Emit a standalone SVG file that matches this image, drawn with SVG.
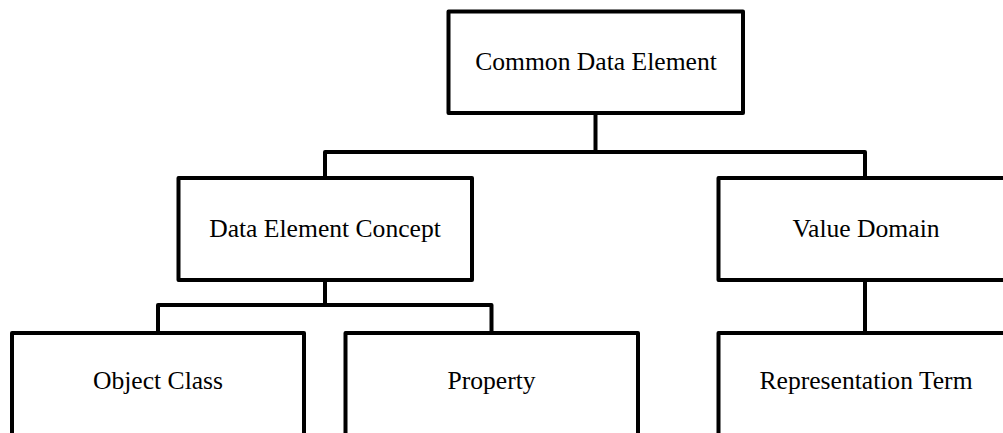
<svg xmlns="http://www.w3.org/2000/svg" width="1003" height="433" viewBox="0 0 1003 433">
<style>
.box{fill:#fff;stroke:#000;stroke-width:4;stroke-linejoin:round}
.lbl{font-family:"Liberation Serif","Times New Roman",serif;font-size:25.6px;fill:#000;text-anchor:middle}
.con{fill:none;stroke:#000;stroke-width:4;stroke-linejoin:round}
</style>
<rect width="1003" height="433" fill="#fff"/>
<g id="connectors">
<path class="con" d="M595.5 113 V152 M325 178 V152 H865 V178"/>
<path class="con" d="M325 280 V305 M158 333 V305 H491.5 V333"/>
<path class="con" d="M865 280 V333"/>
</g>
<g id="cde"><rect class="box" x="448.5" y="11.5" width="294.5" height="101.5"/><text class="lbl" x="596" y="70">Common Data Element</text></g>
<g id="dec"><rect class="box" x="178.5" y="178" width="293.5" height="102"/><text class="lbl" x="325" y="237">Data Element Concept</text></g>
<g id="vd"><rect class="box" x="718.5" y="178" width="294" height="102"/><text class="lbl" x="866" y="237">Value Domain</text></g>
<g id="oc"><rect class="box" x="12" y="333" width="292" height="102"/><text class="lbl" x="158" y="389">Object Class</text></g>
<g id="prop"><rect class="box" x="345.5" y="333" width="292.5" height="102"/><text class="lbl" x="491.5" y="389">Property</text></g>
<g id="rt"><rect class="box" x="718.5" y="333" width="294" height="102"/><text class="lbl" x="866" y="389">Representation Term</text></g>
</svg>
